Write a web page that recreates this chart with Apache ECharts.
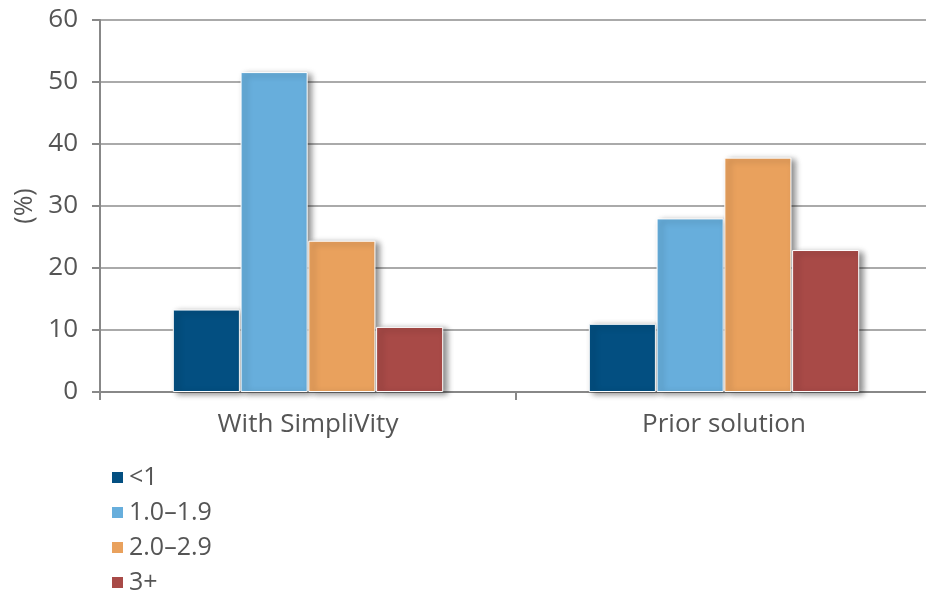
<!DOCTYPE html>
<html>
<head>
<meta charset="utf-8">
<script src="https://cdn.jsdelivr.net/npm/echarts@6/dist/echarts.min.js"></script>
<style>
  html, body { margin: 0; padding: 0; background: #fff; }
  #chart { width: 926px; height: 596px; }
</style>
</head>
<body>
<div id="chart"></div>
<script>
// Categories along the x axis
const categories = ['With SimpliVity', 'Prior solution'];
// Share of respondents (%) per ratio band
const seriesNames = ['<1', '1.0–1.9', '2.0–2.9', '3+'];
const lessThan1 = [13.3, 11.0];
const from1to19 = [51.6, 28.0];
const from2to29 = [24.4, 37.8];
const threePlus = [10.5, 22.9];
const seriesColors = ['#034f81', '#67aedc', '#e9a15d', '#a84a47'];

const values = [lessThan1, from1to19, from2to29, threePlus];
const textFont = '"Open Sans", "DejaVu Sans", sans-serif';

const chart = echarts.init(document.getElementById('chart'), null, { renderer: 'canvas' });

chart.setOption({
  animation: false,
  textStyle: { fontFamily: textFont },
  legend: {
    orient: 'vertical',
    left: 110,
    top: 465,
    padding: 0,
    itemWidth: 13,
    itemHeight: 13,
    itemGap: 10,
    icon: 'rect',
    textStyle: { fontSize: 25, lineHeight: 25, color: '#555', fontFamily: textFont },
    data: seriesNames
  },
  // the plot runs a little past the right edge of the canvas
  grid: { left: 100, width: 832, top: 20, bottom: 204, containLabel: false, outerBoundsMode: 'none' },
  xAxis: {
    type: 'category',
    data: categories,
    axisLine: { lineStyle: { color: '#888', width: 2 } },
    axisTick: { show: true, length: 8, lineStyle: { color: '#888', width: 2 } },
    axisLabel: { fontSize: 26, color: '#555', margin: 20 }
  },
  yAxis: {
    type: 'value',
    min: 0,
    max: 60,
    interval: 10,
    name: '(%)',
    nameLocation: 'middle',
    nameGap: 63,
    nameRotate: 90,
    nameTextStyle: { fontSize: 25, color: '#555' },
    axisLine: { show: true, lineStyle: { color: '#888', width: 2 } },
    axisTick: { show: true, length: 8, lineStyle: { color: '#888', width: 2 } },
    axisLabel: { fontSize: 26, color: '#555', margin: 22 },
    splitLine: { lineStyle: { color: '#aaa', width: 2 } }
  },
  series: seriesNames.map((name, i) => ({
    name: name,
    type: 'bar',
    data: values[i],
    barGap: '1%',
    barCategoryGap: '35%',
    itemStyle: {
      color: seriesColors[i],
      borderColor: '#fff',
      borderWidth: 1,
      shadowColor: 'rgba(0,0,0,0.45)',
      shadowBlur: 6,
      shadowOffsetX: 4,
      shadowOffsetY: 2
    }
  }))
});
</script>
</body>
</html>
